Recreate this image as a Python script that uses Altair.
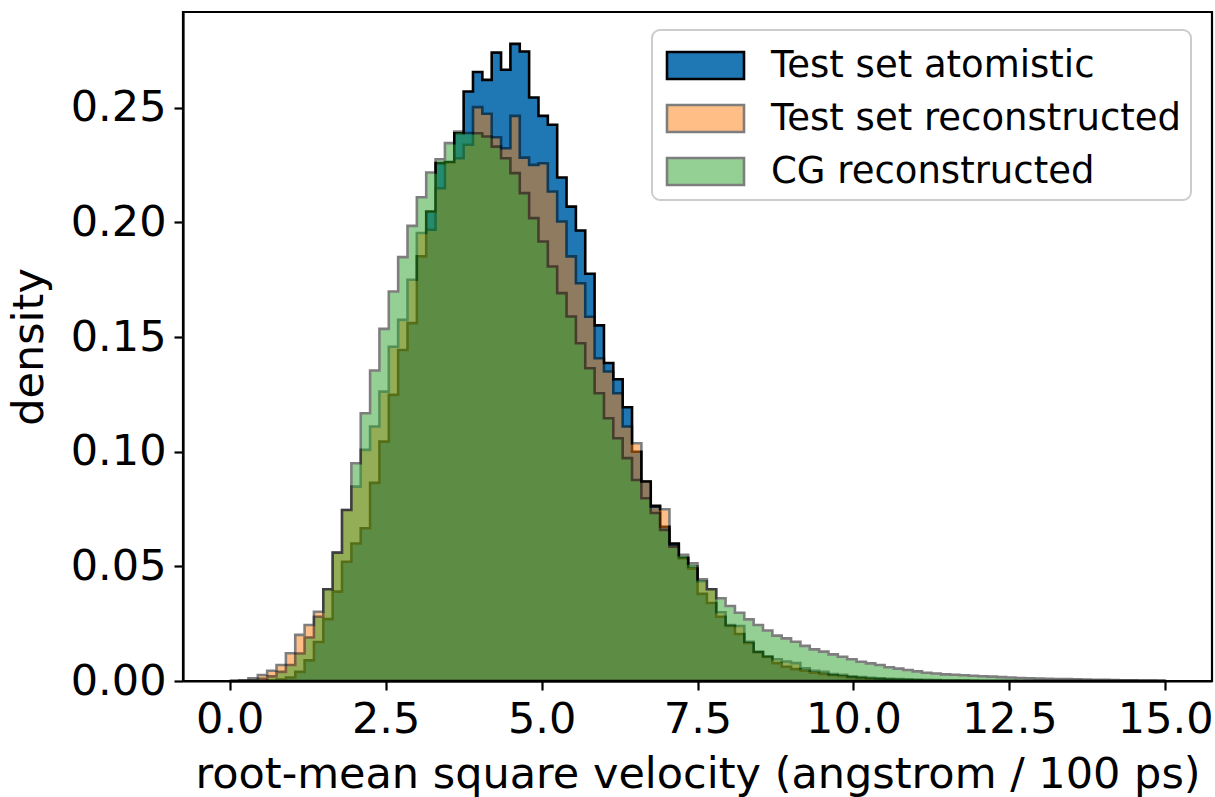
import altair as alt
import pandas as pd
import numpy as np

# Histogram bins (shared by the three series)
BIN_START = 0.0
BIN_END = 15.0
N_BINS = 100

SERIES = ["Test set atomistic", "Test set reconstructed", "CG reconstructed"]
FILLS = ["#1f77b4", "#ff7f0e", "#2ca02c"]
EDGES = ["black", "black", "black"]
ALPHAS = [1.0, 0.5, 0.5]

atomistic = [
    0, 0, 0, 0, 0.0002, 0.0006, 0.0015, 0.004, 0.009, 0.017,
    0.027, 0.039, 0.052, 0.060, 0.0666, 0.0864, 0.1044, 0.1248, 0.1444, 0.1561,
    0.1852, 0.2048, 0.2259, 0.2262, 0.2389, 0.2571, 0.2656, 0.2622, 0.2741, 0.2666,
    0.2779, 0.2746, 0.2545, 0.2465, 0.2426, 0.2196, 0.2069, 0.1965, 0.1776, 0.1551,
    0.1387, 0.1316, 0.1194, 0.1000, 0.0870, 0.0764, 0.0673, 0.0600, 0.0535, 0.0490,
    0.0380, 0.0340, 0.0280, 0.0240, 0.0205, 0.0165, 0.0125, 0.0105, 0.0078, 0.0062,
    0.0052, 0.0045, 0.0036, 0.0030, 0.0025, 0.0021, 0.0016, 0.0013, 0.0010, 0.0008,
    0.0006, 0.0005, 0.0004, 0.0003, 0.0002, 0.0002, 0.0001, 0.0001, 0.0001, 0,
    0, 0, 0, 0, 0, 0, 0, 0, 0, 0,
    0, 0, 0, 0, 0, 0, 0, 0, 0, 0,
]

test_reconstructed = [
    0, 0.0003, 0.0012, 0.0026, 0.0045, 0.0070, 0.0121, 0.0201, 0.0244, 0.0302,
    0.0400, 0.0560, 0.0746, 0.0848, 0.1008, 0.1110, 0.1262, 0.1458, 0.1575, 0.1750,
    0.1954, 0.1968, 0.2149, 0.2265, 0.2280, 0.2339, 0.2503, 0.2474, 0.2372, 0.2324,
    0.2465, 0.2283, 0.2251, 0.2258, 0.2135, 0.2004, 0.1852, 0.1735, 0.1589, 0.1408,
    0.1350, 0.1255, 0.1110, 0.1037, 0.0870, 0.0760, 0.0749, 0.0595, 0.0540, 0.0500,
    0.0435, 0.0400, 0.0300, 0.0244, 0.0240, 0.0171, 0.0128, 0.0108, 0.0095, 0.0085,
    0.0078, 0.0055, 0.0045, 0.0040, 0.0030, 0.0027, 0.0020, 0.0017, 0.0014, 0.0012,
    0.0010, 0.0008, 0.0007, 0.0006, 0.0005, 0.0004, 0.0003, 0.0003, 0.0002, 0.0002,
    0.0001, 0.0001, 0.0001, 0.0001, 0, 0, 0, 0, 0, 0,
    0, 0, 0, 0, 0, 0, 0, 0, 0, 0,
]

cg_reconstructed = [
    0, 0, 0.0003, 0.0010, 0.0020, 0.0040, 0.0070, 0.0120, 0.0190, 0.0280,
    0.0400, 0.0560, 0.0746, 0.0950, 0.1168, 0.1354, 0.1536, 0.1699, 0.1849, 0.1985,
    0.2110, 0.2218, 0.2276, 0.2346, 0.2397, 0.2390, 0.2389, 0.2375, 0.2331, 0.2280,
    0.2215, 0.2128, 0.2019, 0.1917, 0.1808, 0.1692, 0.1590, 0.1473, 0.1364, 0.1255,
    0.1146, 0.1059, 0.0972, 0.0877, 0.0797, 0.0733, 0.0659, 0.0586, 0.0550, 0.0513,
    0.0444, 0.0400, 0.0361, 0.0327, 0.0298, 0.0269, 0.0244, 0.0220, 0.0198, 0.0186,
    0.0171, 0.0153, 0.0138, 0.0128, 0.0116, 0.0106, 0.0095, 0.0084, 0.0077, 0.0070,
    0.0060, 0.0054, 0.0048, 0.0042, 0.0036, 0.0033, 0.0029, 0.0027, 0.0025, 0.0023,
    0.0021, 0.0019, 0.0017, 0.0015, 0.0013, 0.0012, 0.0011, 0.0010, 0.0009, 0.0008,
    0.0007, 0.0006, 0.0005, 0.0005, 0.0004, 0.0003, 0.0003, 0.0002, 0.0002, 0.0001,
]

X_TICKS = [0.0, 2.5, 5.0, 7.5, 10.0, 12.5, 15.0]
Y_TICKS = [0.0, 0.05, 0.10, 0.15, 0.20, 0.25]

edges = np.linspace(BIN_START, BIN_END, N_BINS + 1)
rows = []
for name, vals in zip(SERIES, [atomistic, test_reconstructed, cg_reconstructed]):
    for i, e in enumerate(edges):
        rows.append({"series": name, "x": float(e), "y": vals[min(i, N_BINS - 1)]})
df = pd.DataFrame(rows)

FONT = "DejaVu Sans"
FS = 43
LFS = 37

legend = alt.Legend(
    title=None,
    orient="none",
    legendX=469,
    legendY=18,
    symbolType="M-1.54,-0.54H1.54V0.54H-1.54Z",
    symbolSize=2500,
    symbolOffset=18,
    symbolStrokeColor="black",
    symbolStrokeWidth=2.6,
    labelFontSize=LFS,
    labelFont=FONT,
    labelColor="black",
    labelLimit=1000,
    labelOffset=39,
    rowPadding=7,
    padding=9,
)

color = alt.Color("series:N", scale=alt.Scale(domain=SERIES, range=FILLS), legend=legend)
stroke = alt.Stroke("series:N", scale=alt.Scale(type="ordinal", domain=SERIES, range=EDGES), legend=legend)
opacity = alt.Opacity(
    "series:N", scale=alt.Scale(type="ordinal", domain=SERIES, range=ALPHAS), legend=legend
)

x_enc = alt.X(
    "x:Q",
    scale=alt.Scale(domain=[-0.75, 15.75], nice=False, zero=False),
    axis=alt.Axis(values=X_TICKS, format=".1f", title="root-mean square velocity (angstrom / 100 ps)",
                  titlePadding=12, labelFlush=False),
)
y_enc = alt.Y(
    "y:Q",
    stack=None,
    scale=alt.Scale(domain=[0, 0.2918], nice=False, zero=False),
    axis=alt.Axis(values=Y_TICKS, format=".2f", title="density", titlePadding=19, labelFlush=False),
)

layers = []
for name in SERIES:
    layers.append(
        alt.Chart(df)
        .transform_filter(alt.datum.series == name)
        .mark_area(interpolate="step-after", strokeWidth=2.6, strokeJoin="miter")
        .encode(x=x_enc, y=y_enc, color=color, stroke=stroke, opacity=opacity)
    )

chart = (
    alt.layer(*layers)
    .properties(
        width=1029,
        height=669,
        padding={"left": 183, "top": 12, "right": 3, "bottom": 116},
        autosize=alt.AutoSizeParams(type="none"),
        background="white",
    )
    .configure_view(stroke="black", strokeWidth=2.2)
    .configure_axis(
        grid=False,
        domainColor="black",
        domainWidth=2.2,
        tickColor="black",
        tickWidth=2.2,
        tickSize=9,
        labelPadding=8,
        labelFont=FONT,
        labelFontSize=FS,
        labelColor="black",
        titleFont=FONT,
        titleFontSize=FS,
        titleFontWeight="normal",
        titleColor="black",
        labelOverlap=False,
    )
    .configure_legend(
        strokeColor="#cccccc",
        strokeWidth=2,
        cornerRadius=8,
        fillColor="white",
    )
)

chart.save("out.html", embed_options={"renderer": "svg", "actions": False})
